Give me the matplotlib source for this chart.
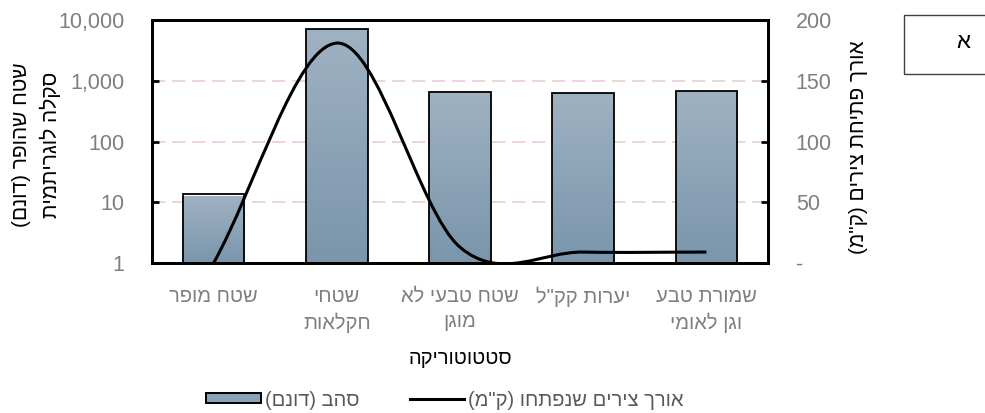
import numpy as np
import matplotlib
matplotlib.use('Agg')
import matplotlib.pyplot as plt
from matplotlib.path import Path
from matplotlib.patches import PathPatch, Patch, Rectangle
from matplotlib.lines import Line2D
from matplotlib.colors import LinearSegmentedColormap
from matplotlib.ticker import FixedLocator, NullLocator

plt.rcParams['font.family'] = ['Liberation Sans', 'DejaVu Sans']

categories = ['שטח מופר', 'שטחי\nחקלאות', 'שטח טבעי לא\nמוגן', 'יערות קק"ל', 'שמורת טבע\nוגן לאומי']
area_dunam = [12.5, 7000, 660, 630, 680]
roads_km = [0, 181, 13, 9, 9]
left_ticks = [1, 10, 100, 1000, 10000]
left_tick_labels = ['1', '10', '100', '1,000', '10,000']
right_ticks = [0, 50, 100, 150, 200]
right_tick_labels = ['-', '50', '100', '150', '200']


def heb(s):
    """Visual order for right-to-left text (matplotlib has no bidi)."""
    out = []
    for line in s.split('\n'):
        r = line[::-1]
        r = r.translate(str.maketrans({'(': ')', ')': '('}))
        out.append(r)
    return '\n'.join(out)


def smooth_path(x, y):
    # Excel-like smoothed line: cubic bezier through the points
    n = len(x)
    px = [2 * x[0] - x[1]] + list(x) + [2 * x[-1] - x[-2]]
    py = [2 * y[0] - y[1]] + list(y) + [2 * y[-1] - y[-2]]
    verts = [(x[0], y[0])]
    codes = [Path.MOVETO]
    for i in range(n - 1):
        j = i + 1
        c1 = (px[j] + (px[j + 1] - px[j - 1]) / 6, py[j] + (py[j + 1] - py[j - 1]) / 6)
        c2 = (px[j + 1] - (px[j + 2] - px[j]) / 6, py[j + 1] - (py[j + 2] - py[j]) / 6)
        verts += [c1, c2, (px[j + 1], py[j + 1])]
        codes += [Path.CURVE4] * 3
    return Path(verts, codes)


grey = '#7f7f7f'
fig = plt.figure(figsize=(9.85, 4.13), dpi=100)
ax = fig.add_axes([152 / 985, 1 - 263 / 413, (768 - 152) / 985, (263 - 20) / 413])

x = np.arange(len(categories))
ax.set_yscale('log')
ax.set_xlim(-0.5, len(categories) - 0.5)
ax.set_ylim(1, 10000)
ax.set_autoscale_on(False)

bars = ax.bar(x, area_dunam, width=0.5, bottom=1, facecolor='none',
              edgecolor='black', linewidth=1.3, zorder=3)

cmap = LinearSegmentedColormap.from_list('bar', ['#7a95ac', '#9fb2c2'])
grad = np.linspace(0, 1, 256).reshape(-1, 1)
to_axes = ax.transData + ax.transAxes.inverted()
for b, xi, v in zip(bars, x, area_dunam):
    (x0, y0) = to_axes.transform((xi - 0.25, 1))
    (x1, y1) = to_axes.transform((xi + 0.25, v))
    im = ax.imshow(grad, extent=[x0, x1, y0, y1], transform=ax.transAxes,
                   origin='lower', aspect='auto', cmap=cmap, zorder=2)
    im.set_clip_path(b)
ax.set_xlim(-0.5, len(categories) - 0.5)
ax.set_ylim(1, 10000)

# gridlines at 10, 100, 1000
for g in [10, 100, 1000]:
    ax.axhline(g, color='#e8cdd0', linewidth=1.2, dashes=(8, 4), zorder=1)

ax.yaxis.set_major_locator(FixedLocator(left_ticks))
ax.yaxis.set_minor_locator(NullLocator())
ax.set_yticklabels(left_tick_labels)
ax.tick_params(axis='y', direction='in', length=5, width=2, pad=20,
               labelsize=15.5, labelcolor=grey)
ax.set_xticks(x)
ax.set_xticklabels([heb(c) for c in categories], linespacing=1.45)
ax.tick_params(axis='x', length=0, pad=17, labelsize=14.5, labelcolor=grey)
for sp in ax.spines.values():
    sp.set_linewidth(2)
ax.set_xlabel(heb('סטטוטוריקה'), fontsize=14.5, color='black', labelpad=11)

ax2 = ax.twinx()
ax2.set_ylim(0, 200)
ax2.add_patch(PathPatch(smooth_path(list(x), roads_km), facecolor='none',
                        edgecolor='black', linewidth=2.2, zorder=4))
ax2.set_yticks(right_ticks)
ax2.set_yticklabels(right_tick_labels)
ax2.tick_params(axis='y', direction='in', length=5, width=2, pad=20,
                labelsize=15.5, labelcolor=grey)
for sp in ax2.spines.values():
    sp.set_linewidth(2)

# axis titles
fig.text(22 / 985, 1 - 145 / 413, heb('שטח שהופר (דונם)'), rotation=90,
         ha='center', va='center', fontsize=15)
fig.text(50 / 985, 1 - 145 / 413, heb('סקלה לוגריתמית'), rotation=90,
         ha='center', va='center', fontsize=15)
fig.text(858 / 985, 1 - 147 / 413, heb('אורך פתיחת צירים (ק"מ)'), rotation=90,
         ha='center', va='center', fontsize=15)

# panel letter box
fig.patches.append(Rectangle((904 / 985, 1 - 74 / 413), 0.2, 59 / 413,
                             transform=fig.transFigure, facecolor='white',
                             edgecolor='#404040', linewidth=1))
fig.text(963 / 985, 1 - 42 / 413, 'א', ha='center', va='center', fontsize=16)

handles = [Patch(facecolor='#8ca2b6', edgecolor='black', linewidth=1.4),
           Line2D([], [], color='black', linewidth=2.2)]
labels = [heb('סהב (דונם)'), heb('אורך צירים שנפתחו (ק"מ)')]
leg = fig.legend(handles, labels, loc='center', bbox_to_anchor=(445 / 985, 1 - 400 / 413),
                 ncol=2, frameon=False, fontsize=14.5, handlelength=2.7,
                 handleheight=0.4, handletextpad=0.2, columnspacing=2.5)
for t in leg.get_texts():
    t.set_color('#595959')

fig.savefig('out.png', dpi=100)
